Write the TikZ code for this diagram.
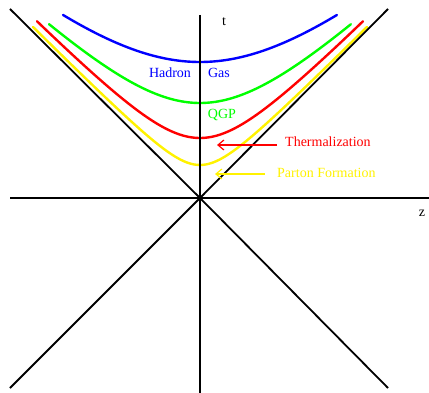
\documentclass[tikz,border=0pt]{standalone}
\usepackage{fontspec}
\setmainfont{Liberation Serif}
\usetikzlibrary{arrows.meta}

\tikzset{
  axisline/.style={black,line width=1.8pt},
  curveline/.style={line width=2.4pt,line cap=round},
  label/.style={anchor=west,inner sep=0pt},
  pointer/.style={line width=1.2pt,-{Straight Barb[length=6pt,width=10pt]}}
}

\begin{document}
\begin{tikzpicture}[x=1pt,y=-1pt,font=\fontsize{14}{16}\selectfont]
\useasboundingbox (0,0) rectangle (429,393);
% proper time curves
\draw[curveline,blue] plot[domain=-1.37:1.37,samples=90] ({200+100*\x},{198-100*sqrt(1.36*1.36+0.80*\x*\x)});
\draw[curveline,green] plot[domain=-1.51:1.51,samples=90] ({200+100*\x},{198-100*sqrt(0.95*0.95+0.93*\x*\x)});
\draw[curveline,red] plot[domain=-1.63:1.63,samples=90] ({200+100*\x},{198-100*sqrt(0.60*0.60+1.04*\x*\x)});
\draw[curveline,yellow] plot[domain=-1.67:1.67,samples=90] ({200+100*\x},{198-100*sqrt(0.33*0.33+1.01*\x*\x)});
% axes and light cone
\coordinate (O) at (200,198);
\draw[axisline] (200,15) -- (200,393);
\draw[axisline] (10,198) -- (429,198);
\draw[axisline] (10,9) -- (O) -- (388,388);
\draw[axisline] (388,9) -- (O) -- (10,388);
\node[inner sep=0pt] (t) at (224,22) {t};
\node[inner sep=0pt] (z) at (422,213) {z};
% labels
\node[inner sep=0pt,text=blue] (hadron) at (170,73) {Hadron};
\node[inner sep=0pt,text=blue] (gas) at (219,73) {Gas};
\node[inner sep=0pt,text=green] (qgp) at (222,115) {QGP};
\node[label,text=red] (therm) at (285,142) {Thermalization};
\node[label,text=yellow] (parton) at (277,173) {Parton Formation};
\coordinate (thermtail) at (277,145);
\coordinate (thermtip) at (217,145);
\coordinate (partontail) at (265,174);
\coordinate (partontip) at (215,174);
\draw[red,pointer] (thermtail) -- (thermtip);
\draw[yellow,pointer] (partontail) -- (partontip);
\end{tikzpicture}
\end{document}
